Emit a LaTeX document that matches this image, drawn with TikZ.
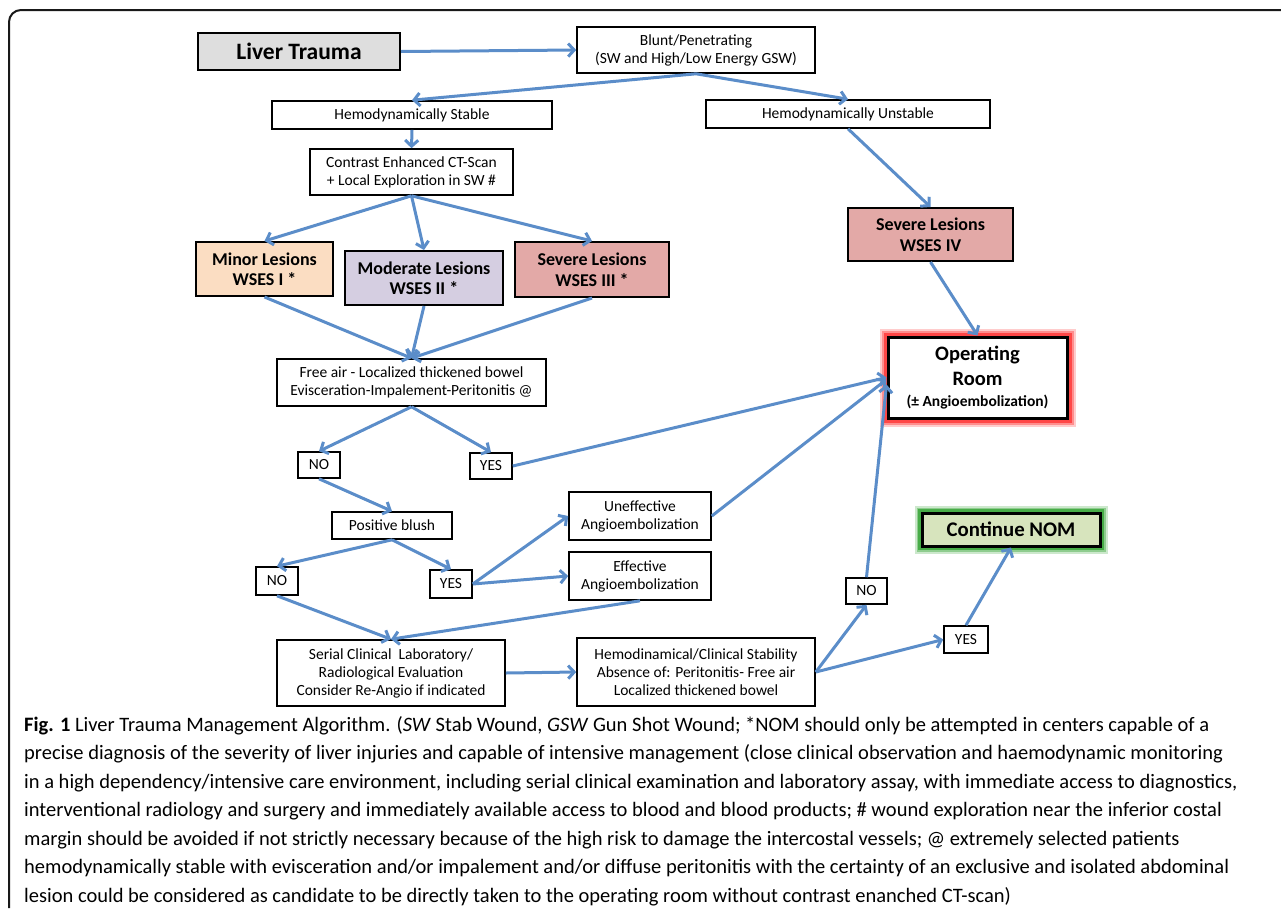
\documentclass[tikz,border=0pt]{standalone}
\usepackage{fontspec}
\setmainfont{Carlito}
\usetikzlibrary{arrows.meta}
\definecolor{arrowblue}{RGB}{91,141,201}
\definecolor{peach}{RGB}{251,221,194}
\definecolor{lavender}{RGB}{213,206,225}
\definecolor{rose}{RGB}{227,169,167}
\definecolor{sage}{RGB}{215,228,189}
\def \boxfont {\fontsize{15.5}{18}\selectfont}
\def \lesionfont {\bfseries\fontsize{18}{20.5}\selectfont}

\begin{document}
\begin{tikzpicture}[x=1pt, y=-1pt,
  box/.style={draw, line width=1.6pt, fill=white, align=center, inner sep=0pt, font=\boxfont},
  lesion/.style={box, line width=2pt, font=\lesionfont},
  arr/.style={draw=arrowblue, line width=3pt, -{Straight Barb[length=6pt,width=13pt]}},
  glowred/.style={preaction={draw=red, line width=17pt, opacity=0.2},
                  preaction={draw=red, line width=13pt, opacity=0.3},
                  preaction={draw=red, line width=9pt, opacity=0.5}},
  glowgreen/.style={preaction={draw=green!55!black, line width=15pt, opacity=0.2},
                    preaction={draw=green!55!black, line width=11pt, opacity=0.3},
                    preaction={draw=green!55!black, line width=8pt, opacity=0.5}}]
\useasboundingbox (0,0) rectangle (1281,908);
\draw[line width=2pt, black!90, rounded corners=12pt] (9,908) -- (9,10) -- (1281,10); % frame

% top
\node[box, fill=black!13, line width=2pt, minimum width=202, minimum height=37, font=\bfseries\fontsize{23.5}{26}\selectfont] (liver) at (299,51.5) {Liver Trauma};
\node[box, minimum width=238, minimum height=46] (blunt) at (696,50) {Blunt/Penetrating\\(SW and High/Low Energy GSW)};
\node[box, minimum width=280, minimum height=28] (stable) at (412,115) {Hemodynamically Stable};
\node[box, minimum width=284, minimum height=28] (unstable) at (848,114) {Hemodynamically Unstable};
\node[box, minimum width=203, minimum height=46] (ct) at (411.5,172) {Contrast Enhanced CT-Scan\\+ Local Exploration in SW \#};

% lesions
\node[lesion, fill=peach, minimum width=137, minimum height=54] (minor) at (264.5,269) {Minor Lesions\\WSES I *};
\node[lesion, fill=lavender, minimum width=158, minimum height=54] (moderate) at (424,278) {Moderate Lesions\\WSES II *};
\node[lesion, fill=rose, minimum width=154, minimum height=55] (severeiii) at (592,269.5) {Severe Lesions\\WSES III *};
\node[lesion, fill=rose, minimum width=165, minimum height=53] (severeiv) at (930.5,234.5) {Severe Lesions\\WSES IV};

% operating room
\node[box, glowred, line width=3pt, minimum width=179, minimum height=81, font=\bfseries\fontsize{20.5}{25}\selectfont] (or) at (977.5,377.5) {Operating\\Room\\[-4pt]{\fontsize{15.5}{18}\selectfont (± Angioembolization)}};

\node[box, minimum width=269, minimum height=47] (freeair) at (411.5,382.5) {Free air - Localized thickened bowel\\Evisceration-Impalement-Peritonitis @};
\node[box, minimum width=42, minimum height=26] (noa) at (319,465) {NO};
\node[box, minimum width=42, minimum height=26] (yesa) at (491,466) {YES};
\node[box, minimum width=120, minimum height=27] (blush) at (392,525.5) {Positive blush};
\node[box, minimum width=42, minimum height=28] (nob) at (277,581) {NO};
\node[box, minimum width=42, minimum height=28] (yesb) at (451,584) {YES};
\node[box, minimum width=142, minimum height=48] (uneff) at (640,516) {Uneffective\\Angioembolization};
\node[box, minimum width=142, minimum height=48] (eff) at (640,576) {Effective\\Angioembolization};
\node[box, minimum width=228, minimum height=66] (serial) at (391,673) {Serial Clinical\ \ Laboratory/\\Radiological Evaluation\\Consider Re-Angio if indicated};
\node[box, minimum width=238, minimum height=68] (hemo) at (696,672) {Hemodinamical/Clinical Stability\\Absence of: Peritonitis- Free air\\Localized thickened bowel};
\node[box, minimum width=41, minimum height=26] (noc) at (866.5,591) {NO};
\node[box, minimum width=44, minimum height=27] (yesc) at (966,639.5) {YES};
\node[box, glowgreen, line width=3pt, fill=sage, minimum width=178, minimum height=33, font=\bfseries\fontsize{20.8}{23}\selectfont] (nom) at (1011,529.5) {Continue NOM};

% arrows
\draw[arr] (liver.east) -- (blunt.west);
\draw[arr] (blunt.south) -- (stable.north);
\draw[arr] (blunt.south) -- (unstable.north);
\draw[arr] (stable.south) -- (ct.north);
\draw[arr] (ct.south) -- (minor.north);
\draw[arr] (ct.south) -- (moderate.north);
\draw[arr] (ct.south) -- (severeiii.north);
\draw[arr] (unstable.south) -- (severeiv.north);
\draw[arr] (severeiv.south) -- (or.north);
\draw[arr] (minor.south) -- (freeair.north);
\draw[arr] (moderate.south) -- (freeair.north);
\draw[arr] (severeiii.south) -- (freeair.north);
\draw[arr] (freeair.south) -- (noa.north);
\draw[arr] (freeair.south) -- (yesa.north);
\draw[arr] (yesa.east) -- (or.west);
\draw[arr] (noa.south) -- (blush.north);
\draw[arr] (blush.south) -- (nob.north);
\draw[arr] (blush.south) -- (yesb.north);
\draw[arr] (yesb.east) -- (uneff.west);
\draw[arr] (yesb.east) -- (eff.west);
\draw[arr] (uneff.east) -- ([yshift=-2pt]or.west);
\draw[arr] (eff.south) -- (serial.north);
\draw[arr] (nob.south) -- (serial.north);
\draw[arr] (serial.east) -- (hemo.west);
\draw[arr] (hemo.east) -- (noc.south);
\draw[arr] (hemo.east) -- (yesc.west);
\draw[arr] (noc.north) -- ([yshift=-7pt]or.west);
\draw[arr] (yesc.north) -- (nom.south);

% caption
\node[anchor=north west, inner sep=0pt, align=left, font=\fontsize{20.5}{28.5}\selectfont] (caption) at (24,716) {\textbf{Fig. 1} Liver Trauma Management Algorithm. (\textit{SW} Stab Wound, \textit{GSW} Gun Shot Wound; *NOM should only be attempted in centers capable of a\\
precise diagnosis of the severity of liver injuries and capable of intensive management (close clinical observation and haemodynamic monitoring\\
in a high dependency/intensive care environment, including serial clinical examination and laboratory assay, with immediate access to diagnostics,\\
interventional radiology and surgery and immediately available access to blood and blood products; \# wound exploration near the inferior costal\\
margin should be avoided if not strictly necessary because of the high risk to damage the intercostal vessels; @ extremely selected patients\\
hemodynamically stable with evisceration and/or impalement and/or diffuse peritonitis with the certainty of an exclusive and isolated abdominal\\
lesion could be considered as candidate to be directly taken to the operating room without contrast enanched CT-scan)};
\end{tikzpicture}
\end{document}
